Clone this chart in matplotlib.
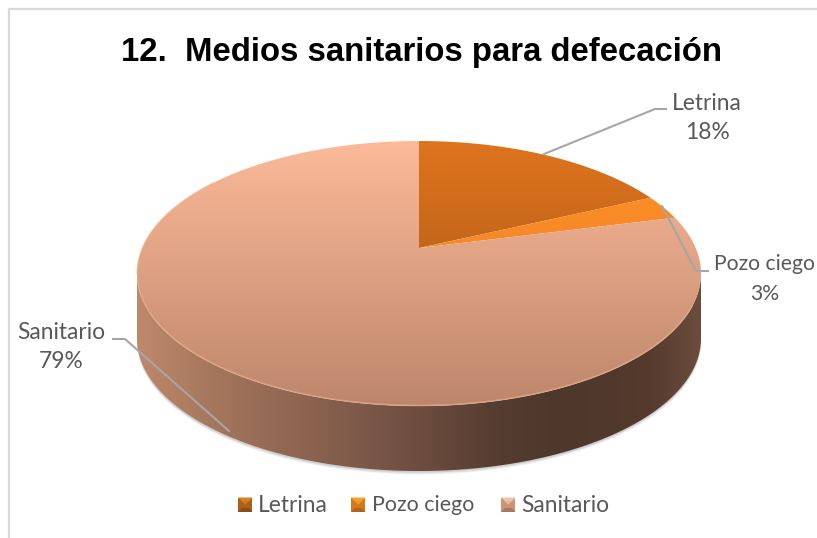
"""
3D style pie chart: medios sanitarios para defecacion.
"""
import numpy as np
import matplotlib
matplotlib.use("Agg")
import matplotlib.pyplot as plt
from matplotlib.patches import Polygon, Rectangle
from matplotlib.path import Path
from matplotlib.transforms import Transform

TITLE = "12.  Medios sanitarios para defecación"
categories = ["Letrina", "Pozo ciego", "Sanitario"]
percent = [18, 3, 79]

# ── Geometry of the tilted disc, in pixels ────────────────────────
CX, CY, RX, RY = 419, 273.5, 282, 132.5   # rim ellipse
APEX_Y = 248                              # where the slices meet
DEPTH = 65                                # wall height
TOP, BOTTOM = CY - RY, CY + RY

# unit circle -> rim ellipse, with the circle centre landing on the apex
K = (TOP + BOTTOM - 2 * APEX_Y) / (BOTTOM - TOP)
A = TOP * (1 + K) - APEX_Y
D = RX * np.sqrt(1 - K ** 2)

# ── Colours ───────────────────────────────────────────────────────
TOP_GRAD = {
    "Letrina": ((222, 116, 30), (160, 82, 20)),
    "Pozo ciego": ((255, 145, 42), (232, 122, 34)),
    "Sanitario": ((252, 186, 152), (189, 134, 108)),
}
WALL_X = [137, 230, 380, 500, 560, 650, 701]
WALL_C = [(190, 136, 107), (160, 115, 90), (120, 85, 70), (85, 60, 48),
          (78, 55, 43), (85, 58, 45), (108, 77, 61)]
LEGEND_C = {
    "Letrina": ("#d9801f", "#a9601c", "#8a4c14"),
    "Pozo ciego": ("#f5a030", "#d47a1e", "#b0641a"),
    "Sanitario": ("#f3c3a6", "#c99478", "#a9785f"),
}
LINE = "#a6a6a6"
TXT = "#595959"
FRAME = "#d9d9d9"


class Tilt(Transform):
    input_dims = output_dims = 2
    is_affine = False

    def transform_non_affine(self, values):
        x, y = np.asarray(values, float).T
        w = 1 + K * y
        return np.column_stack([CX + D * x / w, (A * y + APEX_Y) / w])

    def transform_path_non_affine(self, path):
        pts = []
        for seg, code in path.iter_bezier():
            if code == Path.MOVETO:
                pts.append(seg.control_points[0])
            else:
                pts.extend(seg(np.linspace(0, 1, 24)[1:]))
        return Path(self.transform_non_affine(np.array(pts)))


def vgrad(c0, c1, n=256):
    t = np.linspace(0, 1, n)[:, None, None]
    return (np.array(c0) * (1 - t) + np.array(c1) * t) / 255


def rim_arc(t, dy=0):
    return CX + RX * np.cos(t), CY + dy + RY * np.sin(t)


def legend_icon(ax, x, y, s, cols):
    light, mid, dark = cols
    ax.add_patch(Rectangle((x, y), s, s, fc=mid, ec="none", zorder=5))
    m, c = s * 0.28, (x + s / 2, y + s / 2)
    ax.add_patch(Polygon([(x, y), (x + s, y), (x + s - m, y + m), (x + m, y + m)],
                         fc=light, ec="none", zorder=6))
    ax.add_patch(Polygon([(x, y + s), (x + s, y + s), (x + s - m, y + s - m), (x + m, y + s - m)],
                         fc=dark, ec="none", zorder=6))
    ax.add_patch(Polygon([(x + m, y + m), (x + s - m, y + m), c],
                         fc=light, ec="none", zorder=6, alpha=0.8))


fig = plt.figure(figsize=(8.17, 5.38), dpi=100)
ax = fig.add_axes([0, 0, 1, 1])

# ── Pie ───────────────────────────────────────────────────────────
wedges, _ = ax.pie(percent, startangle=90, counterclock=False, radius=1,
                   wedgeprops=dict(facecolor="none", linewidth=0))
tilt = Tilt()

# wall shadow
t_low = np.linspace(np.pi, 0, 200)
xt, yt = rim_arc(t_low)
xb, yb = rim_arc(t_low[::-1], DEPTH)
wall_xy = np.column_stack([np.r_[xt, xb], np.r_[yt, yb]])
for off, al in [(3.5, 0.10), (2.5, 0.14), (1.5, 0.2)]:
    ax.add_patch(Polygon(wall_xy + [0, off], fc="#808080", ec="none",
                         alpha=al, zorder=1))

# wall
nx = WALL_X[-1] - WALL_X[0] + 1
xs = np.linspace(WALL_X[0], WALL_X[-1], nx)
wall_img = np.stack([np.interp(xs, WALL_X, [c[i] for c in WALL_C]) for i in range(3)],
                    axis=-1)[None, :, :] / 255
wall_patch = Polygon(wall_xy, fc="none", ec="none", zorder=2)
ax.add_patch(wall_patch)
im = ax.imshow(wall_img, extent=(WALL_X[0], WALL_X[-1], BOTTOM + DEPTH, CY),
               aspect="auto", zorder=2, interpolation="bilinear")
im.set_clip_path(wall_patch)

# top surface
for name, w in zip(categories, wedges):
    w.set_transform(tilt + ax.transData)
    w.set_clip_on(False)
    c0, c1 = TOP_GRAD[name]
    im = ax.imshow(vgrad(c0, c1), extent=(CX - RX - 1, CX + RX + 1, BOTTOM, TOP),
                   aspect="auto", zorder=3, interpolation="bilinear")
    im.set_clip_path(w)

# light bevel along the near rim, soft edge on the far rim
x_rim, y_rim = rim_arc(np.linspace(np.pi * 0.98, np.pi * 0.08, 200))
ax.plot(x_rim, y_rim - 0.5, color="#eeb08e", lw=1.1, alpha=0.6, zorder=4)
x_rim, y_rim = rim_arc(np.linspace(np.pi * 1.0, np.pi * 1.24, 60))
ax.plot(x_rim, y_rim, color="#f4b494", lw=0.8, alpha=0.7, zorder=4)

# ── Leader lines and labels ───────────────────────────────────────
ax.plot([544, 655, 666], [154, 109, 109], color=LINE, lw=1.5, zorder=5,
        solid_joinstyle="round")
ax.plot([662, 696, 708], [206, 271, 271], color=LINE, lw=1.5, zorder=5,
        solid_joinstyle="round")
ax.plot([113, 125, 229], [339, 339, 431], color=LINE, lw=1.5, zorder=5,
        solid_joinstyle="round")

label_xy = [(707, 118), (765, 279), (61, 347)]
label_fs = [16.4, 15.2, 16.4]
for name, p, (lx, ly), fs in zip(categories, percent, label_xy, label_fs):
    ax.text(lx, ly, f"{name}\n{p}%", ha="center", va="center", fontsize=fs,
            family="Lato", color=TXT, linespacing=1.5 * 16.4 / fs, zorder=6)

# ── Title, legend, frame ──────────────────────────────────────────
ax.text(422, 53, TITLE, ha="center", va="center", fontsize=23.7,
        family="Liberation Sans", fontweight="bold", color="black")

legend_fs = [16.4, 15.4, 16.4]
for name, ix, tx, fs in zip(categories, [238, 351, 501], [258, 372, 521], legend_fs):
    legend_icon(ax, ix, 497.5, 14.5, LEGEND_C[name])
    ax.text(tx, 505, name, ha="left", va="center", fontsize=fs,
            family="Lato", color=TXT)

ax.plot([9, 9, 817], [538, 9, 9], color=FRAME, lw=1.6, zorder=1,
        solid_joinstyle="miter")

ax.set_aspect("auto")
ax.set_xlim(0, 817)
ax.set_ylim(538, 0)
ax.axis("off")

fig.savefig("out.png", dpi=100, facecolor="white")
plt.close(fig)
